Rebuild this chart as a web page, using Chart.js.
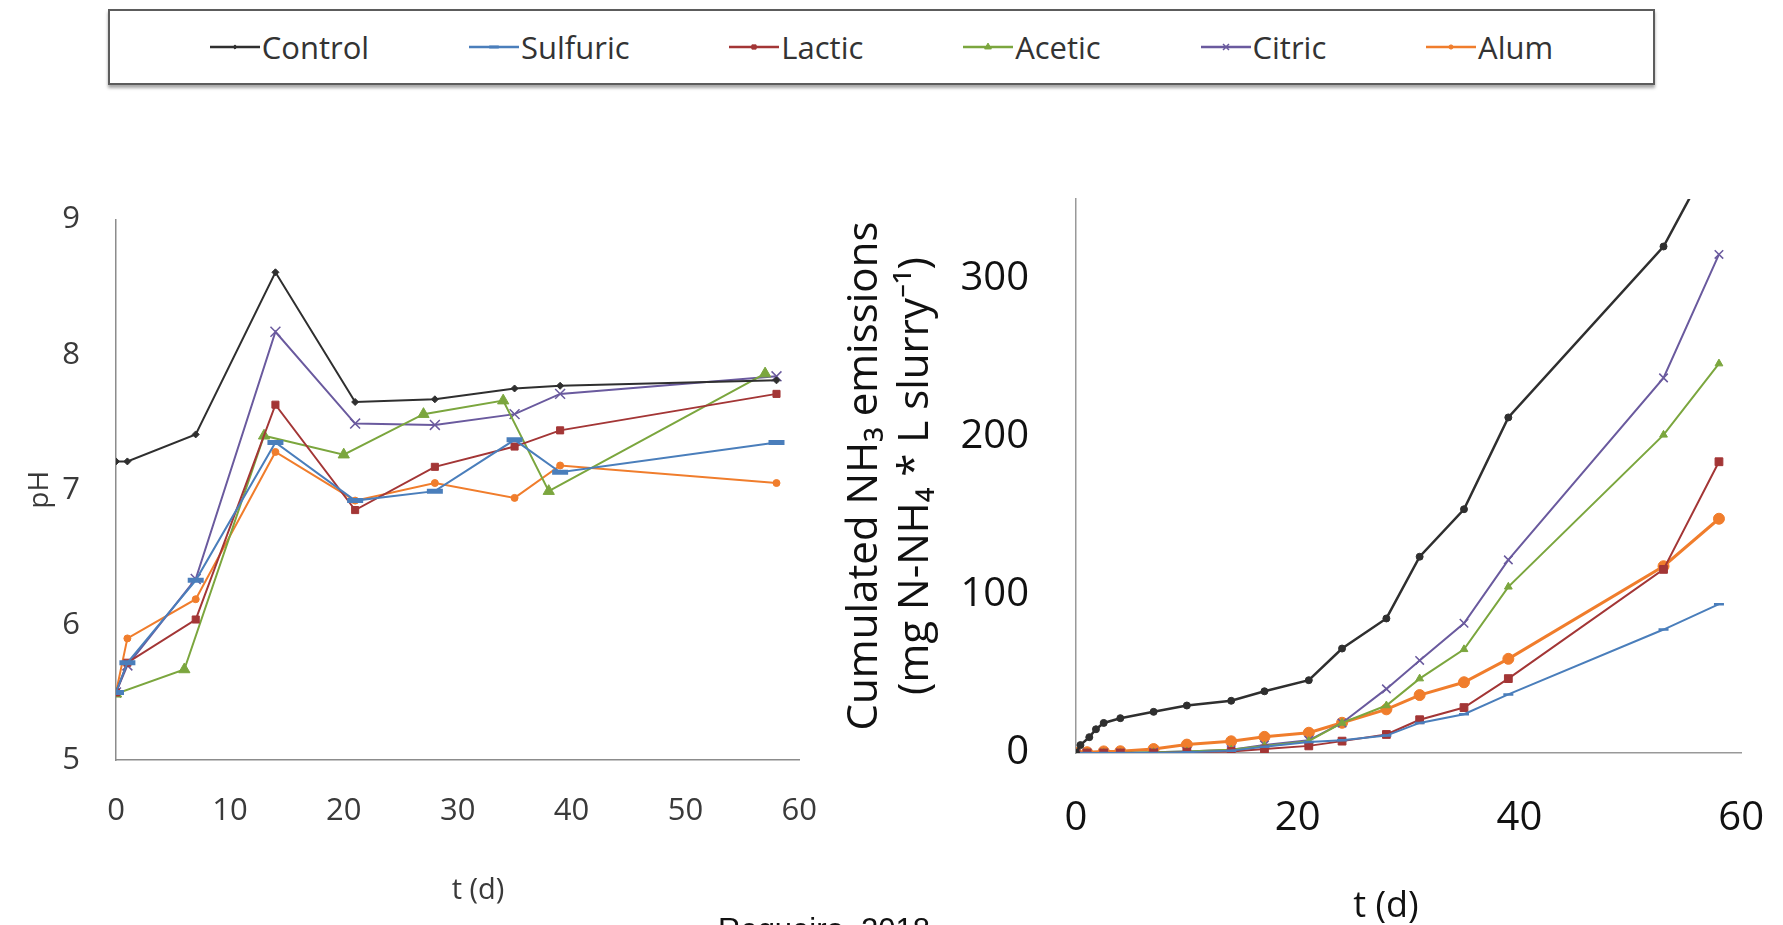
<!DOCTYPE html>
<html>
<head>
<meta charset="utf-8">
<script src="https://cdn.jsdelivr.net/npm/chart.js@4.4.1/dist/chart.umd.min.js"></script>
<style>
  html, body { margin: 0; padding: 0; background: #fff; }
  body { width: 1783px; height: 925px; position: relative; overflow: hidden; font-family: "Open Sans", sans-serif; }
  #legend { position: absolute; left: 108px; top: 9px; width: 1543px; height: 72px; border: 2px solid #5c5c5c;
            box-shadow: 0 3px 3px rgba(0,0,0,0.35); display: flex; justify-content: space-evenly; align-items: center; }
  .item { display: flex; align-items: center; font-size: 31px; color: #333; }
  .item canvas { width: 50px; height: 24px; margin-right: 2px; }
  #left { position: absolute; left: 0; top: 165px; }
  #right { position: absolute; left: 840px; top: 128px; }
  .xtitle { position: absolute; transform: translate(-50%, -50%); white-space: nowrap; line-height: 1; }
  #leftX { left: 478px; top: 887px; font-size: 29px; color: #3a3a3a; }
  #rightX { left: 1386px; top: 904px; font-size: 36px; color: #111; }
  #cite { position: absolute; left: 718px; top: 914px; font-family: "Liberation Sans", Arial, sans-serif;
          font-size: 31px; line-height: 31px; color: #111; white-space: nowrap; }
</style>
</head>
<body>
<div id="legend"></div>
<canvas id="left" width="850" height="745"></canvas>
<canvas id="right" width="966" height="800"></canvas>
<div class="xtitle" id="leftX">t (d)</div>
<div class="xtitle" id="rightX">t (d)</div>
<div id="cite">Regueiro, 2018</div>
<script>
// series names (legend order)
const seriesNames = ['Control', 'Sulfuric', 'Lactic', 'Acetic', 'Citric', 'Alum'];
const seriesColors = ['#2f2f2f', '#4a7ebb', '#a33636', '#7ba63e', '#6a5a9e', '#f07d2c'];

// --- pH over time (left chart) ---
const phDaysControl = [0, 1, 7, 14, 21, 28, 35, 39, 58];
const phControl = [7.21, 7.21, 7.41, 8.61, 7.65, 7.67, 7.75, 7.77, 7.81];
const phDaysSulfuric = [0, 1, 7, 14, 21, 28, 35, 39, 58];
const phSulfuric = [5.5, 5.72, 6.33, 7.35, 6.92, 6.99, 7.37, 7.13, 7.35];
const phDaysLactic = [0, 1, 7, 14, 21, 28, 35, 39, 58];
const phLactic = [5.5, 5.72, 6.04, 7.63, 6.85, 7.17, 7.32, 7.44, 7.71];
const phDaysAcetic = [0, 6, 13, 20, 27, 34, 38, 57];
const phAcetic = [5.49, 5.67, 7.40, 7.26, 7.56, 7.66, 6.99, 7.86];
const phDaysCitric = [0, 1, 7, 14, 21, 28, 35, 39, 58];
const phCitric = [5.5, 5.70, 6.34, 8.17, 7.49, 7.48, 7.56, 7.71, 7.84];
const phDaysAlum = [0, 1, 7, 14, 21, 28, 35, 39, 58];
const phAlum = [5.5, 5.9, 6.19, 7.28, 6.92, 7.05, 6.94, 7.18, 7.05];

// --- cumulated NH3 emissions (right chart) ---
const nh3DaysControl = [0, 0.4, 1.2, 1.8, 2.5, 4, 7, 10, 14, 17, 21, 24, 28, 31, 35, 39, 53, 58];
const nh3Control = [0, 5, 10, 15, 19, 22, 26, 30, 33, 39, 46, 66, 85, 124, 154, 212, 320, 385];
const nh3Days = [0, 1, 2.5, 4, 7, 10, 14, 17, 21, 24, 28, 31, 35, 39, 53, 58];
const nh3Sulfuric = [0, 0, 0, 0, 0, 0.5, 1.5, 4, 7, 8, 11, 19, 24.5, 37, 78, 94];
const nh3Lactic = [0, 0, 0, 0, 0, 0.5, 1, 2.5, 4.5, 7.5, 11.7, 21, 28.7, 47, 116, 184];
const nh3Acetic = [0, 0, 0, 0, 0.5, 1, 2, 4.5, 7.5, 19, 30, 47, 65.5, 105, 201, 246];
const nh3Citric = [0, 0, 0, 0, 0.5, 1, 2, 5, 8, 19, 40.5, 58.5, 82, 122, 237, 315];
const nh3Alum = [0, 0.5, 1, 1.1, 2.5, 5.3, 7.4, 10.2, 12.8, 19.1, 27.6, 36.6, 44.7, 59.5, 118, 148];

const pts = (days, vals) => days.map((d, i) => ({ x: d, y: vals[i] }));

const phDays = [phDaysControl, phDaysSulfuric, phDaysLactic, phDaysAcetic, phDaysCitric, phDaysAlum];
const phVals = [phControl, phSulfuric, phLactic, phAcetic, phCitric, phAlum];
const nh3DayList = [nh3DaysControl, nh3Days, nh3Days, nh3Days, nh3Days, nh3Days];
const nh3Vals = [nh3Control, nh3Sulfuric, nh3Lactic, nh3Acetic, nh3Citric, nh3Alum];

// marker styles
const leftMarkers = [
  { style: 'rectRot', r: 3.5, bw: 1 },
  { style: 'line', r: 8, bw: 5 },
  { style: 'rect', r: 5, bw: 1 },
  { style: 'triangle', r: 6.5, bw: 1 },
  { style: 'crossRot', r: 7, bw: 1.5 },
  { style: 'circle', r: 3.5, bw: 1 }
];
const rightMarkers = [
  { style: 'circle', r: 3.5, bw: 1 },
  { style: 'line', r: 5, bw: 2.5 },
  { style: 'rect', r: 5.5, bw: 1 },
  { style: 'triangle', r: 4.5, bw: 1 },
  { style: 'crossRot', r: 6, bw: 1.5 },
  { style: 'circle', r: 5.5, bw: 1 }
];
const rightWidths = [2.5, 2, 2, 2, 2, 3];

function buildSets(dayList, vals, markers, widths) {
  return seriesNames.map((name, i) => ({
    label: name,
    data: pts(dayList[i], vals[i]),
    borderColor: seriesColors[i],
    backgroundColor: seriesColors[i],
    borderWidth: widths ? widths[i] : 2,
    pointStyle: markers[i].style,
    pointRadius: markers[i].r,
    pointBorderWidth: markers[i].bw,
    pointBackgroundColor: seriesColors[i],
    pointBorderColor: seriesColors[i],
    tension: 0
  }));
}

const family = '"Open Sans", sans-serif';

// legend shared by both panels
const legendEl = document.getElementById('legend');
seriesNames.forEach((name, i) => {
  const item = document.createElement('span');
  item.className = 'item';
  const c = document.createElement('canvas');
  c.width = 50; c.height = 24;
  const g = c.getContext('2d');
  g.strokeStyle = seriesColors[i];
  g.fillStyle = seriesColors[i];
  g.lineWidth = 2.5;
  g.beginPath(); g.moveTo(0, 12); g.lineTo(50, 12); g.stroke();
  const m = leftMarkers[i];
  g.lineWidth = m.style === 'line' ? 3 : m.bw;
  if (Chart.helpers && Chart.helpers.drawPoint) {
    Chart.helpers.drawPoint(g, { pointStyle: m.style, radius: Math.min(m.r * 0.6, 5), borderWidth: g.lineWidth, rotation: 0 }, 25, 12);
  }
  item.appendChild(c);
  item.appendChild(document.createTextNode(name));
  legendEl.appendChild(item);
});

// left: pH
new Chart(document.getElementById('left'), {
  type: 'line',
  data: { datasets: buildSets(phDays, phVals, leftMarkers, null) },
  options: {
    responsive: false,
    animation: false,
    events: [],
    layout: { padding: 0 },
    plugins: { legend: { display: false }, tooltip: { enabled: false } },
    scales: {
      x: {
        type: 'linear', min: 0, max: 60,
        ticks: { stepSize: 10, padding: 33, color: '#3a3a3a', font: { family, size: 31 } },
        grid: { display: false, drawTicks: false },
        border: { color: '#8c8c8c', width: 1.5 },
        afterFit: s => { s.height = 150; }
      },
      y: {
        type: 'linear', min: 5, max: 9,
        ticks: { stepSize: 1, padding: 36, color: '#3a3a3a', font: { family, size: 31 } },
        grid: { display: false, drawTicks: false },
        border: { color: '#8c8c8c', width: 1.5 },
        title: { display: true, text: 'pH', color: '#3a3a3a', font: { family, size: 28 }, padding: { top: 23, bottom: 0 } },
        afterFit: s => { s.width = 116; }
      }
    }
  }
});

// right: cumulated NH3
new Chart(document.getElementById('right'), {
  type: 'line',
  data: { datasets: buildSets(nh3DayList, nh3Vals, rightMarkers, rightWidths) },
  options: {
    responsive: false,
    animation: false,
    events: [],
    layout: { padding: 0 },
    plugins: { legend: { display: false }, tooltip: { enabled: false } },
    scales: {
      x: {
        type: 'linear', min: 0, max: 60,
        ticks: { stepSize: 20, padding: 42, color: '#111', font: { family, size: 40 } },
        grid: { display: false, drawTicks: false },
        border: { color: '#999', width: 1.5 },
        afterFit: s => { s.height = 175; }
      },
      y: {
        type: 'linear', min: 0, max: 350,
        ticks: { stepSize: 100, includeBounds: false, padding: 47, color: '#111', font: { family, size: 40 } },
        grid: { display: false, drawTicks: false },
        border: { color: '#999', width: 1.5 },
        title: {
          display: true,
          text: ['Cumulated NH\u2083 emissions', '(mg N-NH\u2084 * L slurry\u207B\u00B9)'],
          color: '#111', font: { family, size: 42, lineHeight: 1.2 }, padding: { top: 0, bottom: 0 }
        },
        afterFit: s => { s.width = 236; }
      }
    }
  }
});
</script>
</body>
</html>
